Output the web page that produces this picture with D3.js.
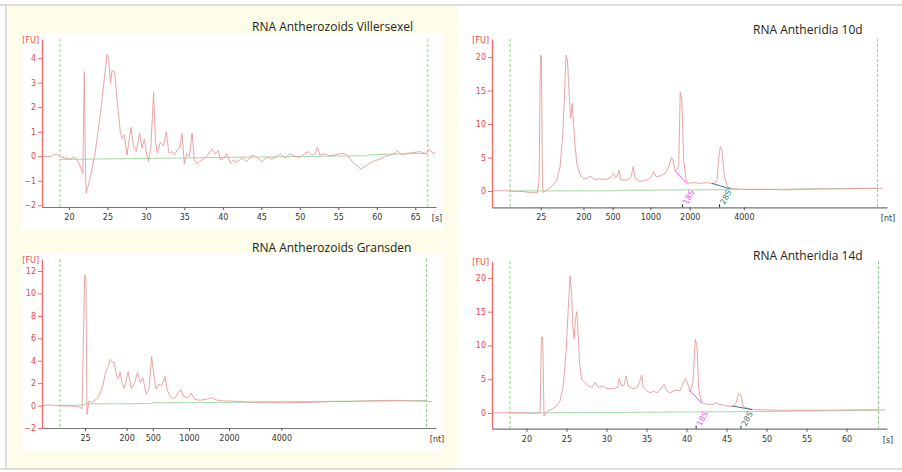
<!DOCTYPE html>
<html>
<head>
<meta charset="utf-8">
<script src="https://cdn.jsdelivr.net/npm/d3@7"></script>
<style>
  html, body { margin: 0; padding: 0; background: #fff; }
  svg { display: block; }
  .title { font-family: "Open Sans", sans-serif; font-size: 12px; fill: #222; }
  .tick-lbl { font-family: "DejaVu Sans", sans-serif; font-size: 8px; }
</style>
</head>
<body>
<div id="chart"></div>
<script>
'use strict';

// electropherogram traces, [time in s, fluorescence FU]
const villersexelTrace = [[16.6,0],[17.6,-0.02],[18.35,0.1],[18.9,-0.02],[19.5,-0.07],[20.2,-0.12],[20.7,-0.02],
  [21.3,-0.28],[21.8,-0.7],[22.0,3.45],[22.15,-0.55],[22.25,-1.5],[22.7,-0.97],[23.4,0.12],[24.1,1.75],[24.95,4.16],
  [25.15,4.0],[25.4,2.98],[25.6,3.5],[25.95,3.42],[26.25,2.3],[26.7,0.94],[26.9,0.73],[27.2,0.87],[27.55,0.05],
  [28.05,1.18],[28.4,0.4],[28.75,0.19],[29.2,0.94],[29.5,0.33],[29.8,0.69],[30.15,-0.01],[30.35,-0.22],[30.65,0.39],
  [31.0,2.6],[31.25,0.67],[31.5,0.12],[31.85,0.56],[32.3,0.42],[32.65,0.98],[33.0,0.12],[33.4,0.19],[33.7,0.05],
  [34.1,0.26],[34.45,0.39],[34.7,0.94],[35.0,-0.33],[35.3,0.12],[35.65,0],[36.0,0.94],[36.3,-0.15],[36.6,-0.31],
  [37.3,-0.15],[37.9,-0.01],[38.55,0.29],[39.0,0.1],[39.4,0.22],[39.7,-0.15],[40.1,-0.08],[40.5,0.1],[41.0,-0.28],
  [41.4,-0.15],[41.8,-0.24],[42.5,-0.08],[43.1,-0.22],[43.8,0.05],[44.4,-0.04],[45.1,-0.22],[45.7,-0.04],[46.4,-0.12],
  [47.0,-0.01],[47.5,0.1],[48.1,-0.08],[48.7,0.1],[49.4,-0.01],[50.0,-0.04],[50.7,0.12],[51.1,0.19],[51.6,0.05],
  [52.0,0.1],[52.3,0.37],[52.6,0.05],[53.3,0.1],[53.9,0.01],[54.6,0.05],[55.2,0.1],[55.9,0.1],[56.3,-0.01],
  [57.0,-0.28],[57.6,-0.42],[57.9,-0.53],[58.5,-0.42],[59.1,-0.28],[59.8,-0.18],[60.4,-0.12],[61.1,-0.01],[61.7,0.05],
  [62.4,0.12],[62.7,0.23],[63.2,0.05],[63.9,0.12],[64.8,0.15],[65.6,0.19],[66.3,0.1],[66.9,0.26],[67.4,0.1],[67.6,0.19]];
const villersexelBase = [[18.84,-0.13],[30,-0.09],[45,-0.03],[58.8,0.02],[59,0.06],[66.6,0.12]];

const gransdenTrace = [[16.6,0],[17.5,0.06],[18.8,-0.03],[20.1,-0.03],[21.2,-0.09],[21.7,-0.27],[22.05,11.67],
  [22.2,11.5],[22.35,-0.77],[22.6,0.41],[22.9,0.27],[23.55,0.56],[23.95,0.92],[24.4,1.75],[24.75,2.93],[25.05,3.38],
  [25.35,4.12],[25.6,3.88],[25.9,3.82],[26.2,2.64],[26.45,2.4],[26.65,3.0],[26.9,2.04],[27.2,1.51],[27.7,3.02],
  [28.1,1.51],[28.55,2.04],[28.9,2.93],[29.3,2.04],[29.6,2.49],[30.05,1.0],[30.4,1.45],[30.75,4.36],[31.05,2.64],
  [31.35,1.45],[31.7,1.9],[32.05,1.75],[32.5,2.58],[32.75,1.45],[33.2,0.71],[33.75,0.65],[34.2,1.16],[34.6,1.39],
  [34.9,0.8],[35.5,0.71],[35.9,1.1],[36.35,0.56],[37.0,0.47],[37.85,0.56],[38.6,0.71],[39.15,0.5],[40.0,0.41],
  [40.9,0.41],[42.2,0.36],[43.9,0.27],[45.7,0.3],[47.8,0.24],[50.0,0.27],[52.1,0.3],[54.3,0.36],[56.4,0.36],
  [58.6,0.41],[60.7,0.44],[62.9,0.44],[65.0,0.41],[67.2,0.36]];
const gransdenBase = [[18.84,0],[22.0,0.05],[22.1,0.15],[30.7,0.17],[30.8,0.25],[40.8,0.27],[41,0.3],[66.46,0.45]];

const antheridia10dTrace = [[16.6,0.05],[18.84,0],[20.66,-0.1],[21.43,-0.25],[22.39,-0.25],[22.6,1.64],[22.78,20.3],
  [22.9,20.05],[23.04,0.65],[23.17,-0.25],[23.6,0.15],[24.25,0.65],[24.9,1.64],[25.33,3.63],[25.68,8.6],[25.9,14.6],
  [26.1,20.3],[26.28,19.55],[26.54,13.6],[26.7,10.85],[26.9,13.1],[27.0,11.3],[27.24,7.1],[27.5,4.1],[27.93,2.4],
  [28.36,1.8],[28.88,1.9],[29.23,2.24],[29.75,1.74],[30.53,1.8],[31.4,1.74],[32.0,2.14],[32.26,2.64],[32.5,2.0],
  [32.7,2.14],[32.95,3.13],[33.2,1.64],[34.0,1.64],[34.55,2.14],[34.8,3.63],[35.07,1.9],[35.72,1.4],[36.6,1.64],
  [37.2,2.14],[37.45,2.9],[37.75,2.14],[38.3,2.24],[38.97,2.64],[39.4,3.63],[39.75,5.0],[39.96,4.63],[40.27,2.9],
  [40.7,3.63],[40.9,14.8],[41.1,13.6],[41.35,4.63],[41.66,1.64],[42.0,1.14],[42.65,1.24],[43.5,1.14],[44.4,1.24],
  [45.24,1.04],[45.68,1.64],[45.9,5.12],[46.1,6.6],[46.3,6.1],[46.63,2.14],[46.98,0.65],[47.6,0.4],[48.7,0.25],
  [50.0,0.25],[52.2,0.25],[54.3,0.15],[56.5,0.25],[58.7,0.3],[60.8,0.3],[63.0,0.35],[65.2,0.4],[67.1,0.4]];
const antheridia10dBase = [[18.84,0],[32.7,0.02],[32.8,0.1],[48.5,0.2],[66.46,0.4]];

const antheridia14dTrace = [[15.8,0],[17.96,0.05],[20.04,0],[21.08,-0.05],[21.7,0.05],[21.88,11.2],[22.04,11.2],
  [22.2,-0.45],[22.54,0.2],[23.17,0.55],[23.8,1.04],[24.2,1.78],[24.6,4.0],[24.96,8.96],[25.2,14.9],[25.46,20.3],
  [25.63,17.9],[25.8,12.9],[25.96,10.94],[26.13,13.9],[26.3,15.0],[26.46,11.9],[26.63,7.5],[26.9,5.0],[27.3,4.5],
  [27.75,4.0],[28.17,3.76],[28.6,4.5],[29.0,3.76],[29.55,4.0],[30.04,3.6],[30.9,3.6],[31.4,3.76],[31.6,5.1],
  [31.9,4.0],[32.2,4.1],[32.46,5.5],[32.75,3.9],[33.4,3.6],[33.8,3.76],[34.1,4.5],[34.4,5.6],[34.6,3.76],[35.04,3.27],
  [35.46,3.0],[35.9,3.2],[36.3,3.0],[36.7,3.37],[37.2,4.26],[37.54,3.27],[37.96,3.0],[38.4,3.27],[38.8,3.4],
  [39.2,3.27],[39.6,4.5],[39.9,5.1],[40.1,4.5],[40.46,3.1],[40.8,4.5],[41.1,10.9],[41.3,9.95],[41.54,3.5],[41.9,1.53],
  [42.5,1.29],[43.4,1.29],[43.7,1.53],[44.2,1.24],[45.04,1.04],[45.9,0.94],[46.2,1.53],[46.54,2.92],[46.8,2.62],
  [47.1,0.94],[47.75,0.64],[48.4,0.5],[50.04,0.45],[52.1,0.4],[54.2,0.4],[56.3,0.4],[58.4,0.4],[60.5,0.45],
  [62.5,0.45],[64.8,0.45]];
const antheridia14dBase = [[17.95,0],[22,0.02],[48,0.2],[63.99,0.4]];

// rRNA peak integration segments and labels
const antheridia10dPeaks = [
  {name: '18S', at: 41.2, seg: [[40.27,2.9],[41.87,1.0]], color: '#f055f0'},
  {name: '28S', at: 46.0, seg: [[45.0,1.14],[47.4,0.3]], color: '#2e7d7d'}];
const antheridia14dPeaks = [
  {name: '18S', at: 41.2, seg: [[40.4,3.4],[41.9,1.43]], color: '#f055f0'},
  {name: '28S', at: 46.8, seg: [[45.7,1.04],[48.2,0.5]], color: '#2e7d7d'}];

// tick labels
const fuTicksVillersexel = [-2, -1, 0, 1, 2, 3, 4];
const fuTicksGransden = [-2, 0, 2, 4, 6, 8, 10, 12];
const fuTicksAntheridia = [0, 5, 10, 15, 20];
const secTicksVillersexel = [20, 25, 30, 35, 40, 45, 50, 55, 60, 65];
const secTicks14d = [20, 25, 30, 35, 40, 45, 50, 55, 60];
const ntLabels = [25, 200, 500, 1000, 2000, 4000];
const ntAtSecGransden = [22.1, 27.5, 30.9, 35.6, 40.8, 47.6];
const ntAtSec10d = [22.82, 28.36, 32.13, 37.02, 42.13, 49.14];

const svg = d3.select('#chart').append('svg')
    .attr('width', 902)
    .attr('height', 472);

// frame and pale background for the left column
svg.append('rect').attr('x', 6).attr('y', 5).attr('width', 452).attr('height', 464).attr('fill', '#fdfde9');
svg.append('line').attr('x1', 0).attr('x2', 902).attr('y1', 5).attr('y2', 5).attr('stroke', '#d2d2d2').attr('stroke-width', 1.5);
svg.append('line').attr('x1', 0).attr('x2', 902).attr('y1', 469).attr('y2', 469).attr('stroke', '#d2d2d2').attr('stroke-width', 1.5);
svg.append('line').attr('x1', 6).attr('x2', 6).attr('y1', 5).attr('y2', 469).attr('stroke', '#d2d2d2').attr('stroke-width', 1.5);

const panels = [
  {title: 'RNA Antherozoids Villersexel', tx: 252, ty: 31, box: [22, 33, 443, 230],
   x0: 42, x1: 436, yTop: 39, yBot: 207, xDom: [16.5, 67.7], yDom: [-2.07, 4.78],
   yTicks: fuTicksVillersexel, xTicks: secTicksVillersexel, xLabels: null, unit: '[s]',
   trace: villersexelTrace, base: villersexelBase, markers: [18.84, 66.63], peaks: []},
  {title: 'RNA Antherozoids Gransden', tx: 252, ty: 251.5, box: [22, 254, 443, 451],
   x0: 42, x1: 436, yTop: 259, yBot: 428, xDom: [16.5, 67.7], yDom: [-2, 13.07],
   yTicks: fuTicksGransden, xTicks: ntAtSecGransden, xLabels: ntLabels, unit: '[nt]',
   trace: gransdenTrace, base: gransdenBase, markers: [18.84, 66.46], peaks: []},
  {title: 'RNA Antheridia 10d', tx: 753, ty: 33.5, box: null,
   x0: 492, x1: 887, yTop: 39, yBot: 207.3, xDom: [16.5, 67.7], yDom: [-2.44, 22.7],
   yTicks: fuTicksAntheridia, xTicks: ntAtSec10d, xLabels: ntLabels, unit: '[nt]',
   trace: antheridia10dTrace, base: antheridia10dBase, markers: [18.84, 66.46], peaks: antheridia10dPeaks},
  {title: 'RNA Antheridia 14d', tx: 753, ty: 260, box: null,
   x0: 492, x1: 887, yTop: 261, yBot: 428.7, xDom: [15.7, 65.05], yDom: [-2.33, 22.5],
   yTicks: fuTicksAntheridia, xTicks: secTicks14d, xLabels: null, unit: '[s]',
   trace: antheridia14dTrace, base: antheridia14dBase, markers: [17.95, 63.99], peaks: antheridia14dPeaks}
];

function drawPanel(p) {
    const g = svg.append('g');
    if (p.box) {
        g.append('rect')
            .attr('x', p.box[0]).attr('y', p.box[1])
            .attr('width', p.box[2] - p.box[0]).attr('height', p.box[3] - p.box[1])
            .attr('fill', '#fff');
    }
    g.append('text').attr('class', 'title')
        .attr('x', p.tx).attr('y', p.ty)
        .text(p.title);

    const x = d3.scaleLinear().domain(p.xDom).range([p.x0, p.x1]);
    const y = d3.scaleLinear().domain(p.yDom).range([p.yBot, p.yTop]);

    // dashed region markers
    g.selectAll('.marker')
        .data(p.markers)
        .join('line')
        .attr('x1', d => x(d)).attr('x2', d => x(d))
        .attr('y1', p.yTop).attr('y2', p.yBot)
        .attr('stroke', '#8fcf8f')
        .attr('stroke-width', 1)
        .attr('stroke-dasharray', '3,2');

    // x axis
    const xAxis = d3.axisBottom(x)
        .tickValues(p.xTicks)
        .tickSize(3)
        .tickSizeOuter(0)
        .tickFormat((d, i) => p.xLabels ? p.xLabels[i] : d);
    g.append('g')
        .attr('transform', `translate(0,${p.yBot})`)
        .call(xAxis)
        .call(a => a.select('.domain').attr('stroke', '#777').attr('stroke-width', 1.2))
        .call(a => a.selectAll('.tick line').attr('stroke', '#555'))
        .call(a => a.selectAll('.tick text')
            .attr('class', 'tick-lbl')
            .attr('fill', '#333')
            .attr('dy', '0.9em'));
    g.append('text').attr('class', 'tick-lbl')
        .attr('x', p.x1 + 1).attr('y', p.yBot + 14)
        .attr('text-anchor', 'middle')
        .attr('fill', '#333')
        .text(p.unit);

    // y axis
    const yAxis = d3.axisLeft(y)
        .tickValues(p.yTicks)
        .tickFormat(d3.format('d'))
        .tickSize(4)
        .tickSizeOuter(0)
        .tickPadding(2);
    g.append('g')
        .attr('transform', `translate(${p.x0},0)`)
        .call(yAxis)
        .call(a => a.select('.domain').attr('stroke', '#f06a6a').attr('stroke-width', 1.3))
        .call(a => a.selectAll('.tick line').attr('stroke', '#f06a6a'))
        .call(a => a.selectAll('.tick text').attr('class', 'tick-lbl').attr('fill', '#e84a4a'));
    g.append('text').attr('class', 'tick-lbl')
        .attr('x', p.x0 - 3).attr('y', p.yTop + 4)
        .attr('text-anchor', 'end')
        .attr('fill', '#e84a4a')
        .text('[FU]');

    const line = d3.line()
        .x(d => x(d[0]))
        .y(d => y(d[1]));

    g.append('path')
        .datum(p.base)
        .attr('d', line)
        .attr('fill', 'none')
        .attr('stroke', '#a6d8a6')
        .attr('stroke-width', 1);

    g.append('path')
        .datum(p.trace)
        .attr('d', line)
        .attr('fill', 'none')
        .attr('stroke', '#e69a9a')
        .attr('stroke-width', 0.9);

    // 18S / 28S peak annotations
    p.peaks.forEach(pk => {
        g.append('path')
            .datum(pk.seg)
            .attr('d', line)
            .attr('fill', 'none')
            .attr('stroke', pk.color)
            .attr('stroke-width', 1);
        g.append('line')
            .attr('x1', x(pk.at)).attr('x2', x(pk.at))
            .attr('y1', p.yBot).attr('y2', p.yBot - 3)
            .attr('stroke', '#222');
        g.append('text').attr('class', 'tick-lbl')
            .attr('transform', `translate(${x(pk.at) + 5},${p.yBot - 2}) rotate(-62)`)
            .attr('fill', pk.color)
            .text(pk.name);
    });
}

panels.forEach(drawPanel);
</script>
</body>
</html>
